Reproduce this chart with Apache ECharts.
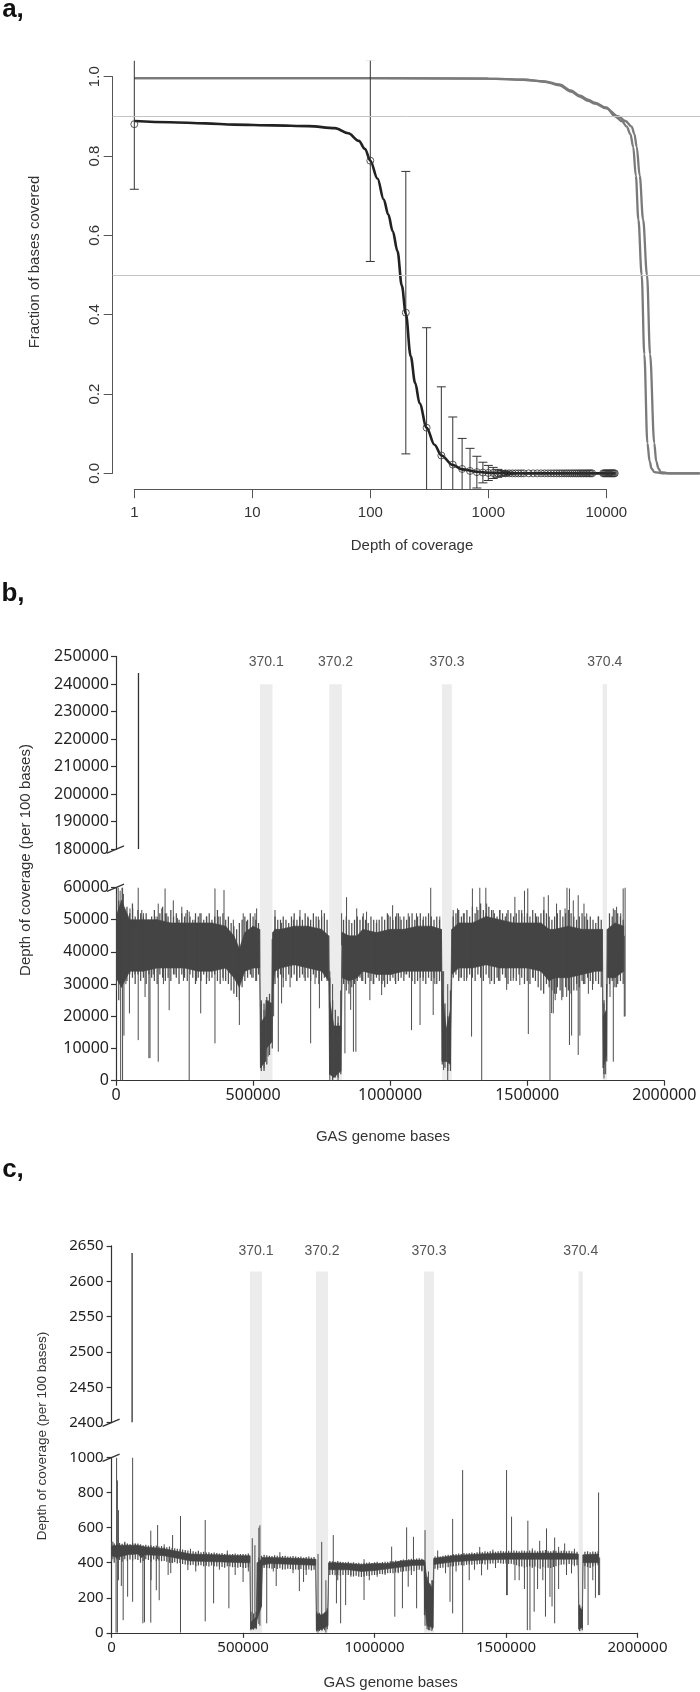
<!DOCTYPE html>
<html><head><meta charset="utf-8">
<script src="https://cdn.jsdelivr.net/npm/echarts@6/dist/echarts.min.js"></script>
<style>html,body{margin:0;padding:0;background:#fff}#c{width:700px;height:1692px}</style>
</head><body><div id="c"></div><script>
// ================= Panel a data =================
// depth of coverage (x), mean fraction of bases covered, standard deviation
const aDepth = [1,100,200,300,400,500,600,700,800,900,1000,1100,1200,1300,1400,1500,1600,1700,1800,1900,2000,
  2200,2400,2600,2800,3000,3200,3400,3600,3800,4000,4200,4400,4600,4800,5000,5200,5400,5600,5800,6000,6200,6400,6600,6800,7000,7200,7400,7600,
  9400,9600,9800,10000,10200,10400,10600,10800,11000,11200,11400,11600,11800];
const aMean = [0.880,0.788,0.405,0.115,0.045,0.022,0.011,0.006,0.003,0.002,0.001,0.001,
  0,0,0,0,0,0,0,0,0,0, 0,0,0,0,0,0,0,0,0,0, 0,0,0,0,0,0,0,0,0,0, 0,0,0,0,0,0,0,0,0,0, 0,0,0,0,0,0,0,0,0,0];
const aSD = [0.164,0.254,0.356,0.252,0.173,0.120,0.077,0.057,0.040,0.026,0.019,0.014,0.010,0.007,0.005,0.003,0.002,0.001,
  0,0,0,0,0,0,0,0,0,0, 0,0,0,0,0,0,0,0,0,0, 0,0,0,0,0,0,0,0,0,0, 0,0,0,0,0,0,0,0,0,0, 0,0,0,0];
// fitted (smooth) black curve
const aFitDepth = [1,2,4,7,15,30,50,65,80,90,100,115,130,142,155,170,185,200,220,240,262,300,350,400,500,600,800,1000,1500,2000,5000,12000];
const aFitFrac  = [0.888,0.885,0.882,0.879,0.877,0.875,0.870,0.857,0.838,0.818,0.788,0.743,0.690,0.652,0.610,0.560,0.473,0.402,0.295,0.228,0.176,0.115,0.072,0.045,0.021,0.010,0.004,0.0015,0.0005,0,0,0];
// two grey cumulative curves
const aGreyDepthA = [1,100,1000,2000,3000,4000,5000,6000,7000,8000,10000,11850,13500,14900,16000,16900,17800,18700,19950,21000,22300,23300,24200,25500,30000,62000];
const aGreyFracA  = [0.996,0.996,0.995,0.992,0.988,0.980,0.965,0.952,0.942,0.934,0.922,0.900,0.888,0.874,0.855,0.823,0.75,0.64,0.50,0.30,0.076,0.03,0.012,0.003,0,0];
const aGreyDepthB = [1,100,1000,2000,3000,4000,5000,6000,7000,8000,10000,12600,14500,16400,17300,18100,19200,20500,22130,23500,25500,26500,27700,29000,34000,62000];
const aGreyFracB  = [0.996,0.996,0.995,0.992,0.987,0.978,0.962,0.949,0.939,0.932,0.920,0.900,0.888,0.874,0.855,0.823,0.75,0.64,0.50,0.30,0.076,0.03,0.012,0.003,0,0];
const aRefLevels = [0.9, 0.5];
const aTicks = [1,10,100,1000,10000];

// ================= Panel b data (positions in kb, depth in thousands) =================
const bRegions = [[525,571],[778,824],[1189,1225],[1775,1791]];
const regionLabels = ['370.1','370.2','370.3','370.4'];
const bCorePos = [0,20,50,100,150,200,250,300,350,400,430,450,470,500,524,527,545,548,568,572,580,600,650,700,750,776,779,795,820,825,850,880,900,950,1000,1050,1100,1150,1187,1190,1205,1220,1225,1250,1300,1350,1400,1450,1500,1550,1580,1600,1650,1700,1750,1774,1777,1789,1792,1820,1852];
const bCoreLo  = [32,29,34,34,35,35,35,34,34,35,32,29,34,35,35,4,6,10,12,29,34,35,36,35,34,31,2,1,3,32,31,32,34,33,33,34,34,34,34,6,6,5,33,35,35,36,35,35,35,34,31,32,32,33,34,34,4,8,32,32,34];
const bCoreHi  = [51,56,50,50,50,49,49,49,49,48,45,41,46,48,47,18,20,25,24,46,47,47,48,48,47,45,25,17,17,46,45,45,47,46,47,47,48,48,47,28,16,22,47,49,49,51,50,49,49,49,47,47,48,47,47,47,20,22,47,49,48];
// per-10-kb extremes of the trace (thousands), 0 .. 1850 kb
const bEdgeHi = [
  58,56,55,53,54,52,55,51,53,52,  51,52,50,51,53,51,52,54,52,51,  53,51,52,50,52,51,53,51,50,52,
  51,52,50,51,52,50,51,53,51,52,  50,51,49,48,47,49,50,51,50,52,  51,50,49,25,24,26,27,44,51,50,
  50,51,50,49,51,52,50,51,50,52,  51,50,52,51,50,51,52,50,32,25,  22,20,28,50,51,50,49,50,51,50,
  51,50,49,51,50,49,50,51,50,52,  51,50,51,52,50,51,50,51,52,50,  51,52,50,51,52,51,50,51,50,34,
  24,20,28,51,52,53,51,52,53,51,  54,52,53,55,53,52,54,53,52,51,  53,52,51,53,52,51,52,53,52,51,
  52,51,53,52,51,52,53,52,51,50,  51,52,53,51,52,53,52,51,50,51,  52,51,50,51,50,49,51,50,25,30,
  52,51,53,52,51,50];
const bEdgeLo = [
  28,25,30,32,31,33,32,30,33,31,  32,30,33,32,31,30,33,32,31,32,  31,33,32,30,33,32,31,33,32,30,
  32,31,33,30,31,32,33,31,30,32,  31,30,28,27,26,25,29,31,32,33,  32,31,33,3,3,5,8,10,30,32,
  33,32,31,33,32,33,31,32,33,31,  32,31,33,32,30,31,32,31,2,0,  1,1,2,30,28,27,29,30,31,32,
  31,30,32,31,30,32,31,30,29,30,  31,32,30,31,32,31,33,32,31,30,  31,32,31,30,32,31,32,30,31,5,
  4,3,3,32,33,31,32,31,32,33,  32,31,33,32,31,33,32,31,30,32,  31,33,32,30,31,32,31,33,32,30,
  31,30,32,31,29,28,27,30,29,28,  27,29,28,26,29,28,27,28,30,29,  31,30,32,31,30,31,30,29,2,6,
  30,31,29,30,31,30];
// distinct excursions: [position kb, low k, high k]
const bSpikes = [[8,40,60],[15,30,59],[17,0,45],[22,35,60],[24,0,60],[27,38,58],[29,14,45],[36,30,45],[49,20.9,45],[51,42,53.5],[61,42,53.5],[69,33,45],[81,12.6,60],[94,40,53],[100,40,52],[106,26,42],[120,7,40],[124,7,40],[136,33,42],[142,42,51],[154,5.9,55],[167,42,53.5],[173,30,42],[179,40,59.7],[185,42,52],[194,21.9,45],[209,40,56],[215,33,42],[224,42,50.5],[240,40,54],[246,31,42],[255,42,52],[267,0,52.5],[288,42,50],[294,31,42],[306,40,52],[309,20.9,45],[331,32,51],[361,11.6,59.7],[373,42,51],[391,31,42],[394,40,59.2],[422,33,42],[428,42,50],[450,17.3,40],[464,40,52],[476,42,49.5],[495,32,42],[507,42,52],[513,31,53.5],[530,4,24],[540,3.8,22],[555,7.5,25],[575,20,45],[580,40,53],[592,9,45],[604,24,49],[610,29,42],[635,29,45],[647,42,50],[659,31,42],[671,40,53],[686,32,42],[701,42,50.5],[710,11.6,45],[726,30,42],[738,42,51],[742,22.5,45],[750,40,53],[768,33,42],[780,0,34],[790,0,30],[810,0,18],[823,42,52],[835,8.5,45],[841,40,57],[847,30,42],[856,22,44],[866,9,44],[875,9,44],[878,42,53.5],[896,31,42],[902,42,52],[914,40,52.5],[926,25,45],[938,30,42],[951,42,50],[969,26.6,45],[975,31,45],[993,42,51.5],[1005,33,42],[1009,40,54.5],[1018,31,42],[1024,42,52],[1036,42,51],[1054,33,42],[1066,42,52],[1078,15.7,45],[1096,42,52],[1109,17.3,45],[1121,32,51],[1148,40,60],[1157,20.4,45],[1163,30,42],[1181,42,51],[1195,3.3,34],[1210,0,30],[1230,42,53],[1246,40,53.5],[1255,32,42],[1267,42,52],[1279,31,45],[1297,13.7,45],[1300,40,59.7],[1316,42,54],[1327,40,60],[1334,0,45],[1349,40,60],[1352,42,55],[1364,30,42],[1376,40,53],[1395,31,42],[1400,42,53],[1425,28.2,52],[1449,31,42],[1455,40,57.1],[1473,29.7,45],[1480,42,53],[1490,40,59],[1502,40,59.7],[1504,14.5,45],[1522,32,42],[1534,42,51],[1561,40,57.1],[1577,40,57.6],[1583,0,45],[1589,21,42],[1595,20.9,45],[1602,25,42],[1607,27,55],[1626,25,42],[1638,42,53.5],[1644,26,42],[1645,40,60],[1654,11.1,59.7],[1662,14,42],[1668,42,56],[1681,28,42],[1686,8,57.6],[1692,14,42],[1705,30,42],[1707,40,55],[1717,42,52],[1723,27,42],[1738,28.2,45],[1759,42,51],[1780,0.7,24],[1786,2,20],[1802,26,42],[1814,5.9,53.5],[1826,29,54],[1841,42,52],[1850,40,59.7],[1854,19.9,45],[1857,20,60]];
const bUpperSpikes = [[82,180,244]];

// ================= Panel c data (positions in kb, depth per 100 bases) =================
const cRegions = [[526,572],[777,823],[1188,1226],[1776,1792]];
const cCorePos = [0,20,60,100,112,130,200,250,300,400,500,526,529,550,554,570,574,600,700,776,779,800,822,826,850,900,950,1000,1050,1100,1150,1188,1191,1200,1222,1226,1250,1300,1400,1500,1600,1700,1774,1777,1790,1793,1852];
const cCoreLo  = [440,430,445,450,430,445,440,425,410,405,400,400,22,30,80,150,385,395,390,385,15,20,40,360,360,360,350,355,365,375,385,385,150,40,30,390,395,405,415,420,420,420,420,20,30,400,400];
const cCoreHi  = [495,500,500,500,495,490,480,465,450,445,440,440,60,90,400,420,430,430,425,420,110,100,130,400,400,395,390,395,395,410,415,415,400,300,250,425,430,440,450,455,455,455,450,150,130,445,450];
// per-10-kb extremes of the trace, 0 .. 1850 kb
const cEdgeHi = [
  520,510,505,512,508,515,510,505,512,508,  510,505,500,502,498,500,495,498,492,495,  490,488,492,485,482,480,478,475,472,470,
  468,465,462,468,460,462,458,460,455,458,  455,452,456,450,452,448,450,452,448,450,  450,448,452,120,110,120,430,440,445,442,
  440,438,442,440,436,438,440,436,435,438,  435,432,436,430,432,435,430,432,120,115,  110,115,140,410,408,405,410,406,404,402,
  405,400,402,398,400,396,398,400,402,398,  402,405,400,404,406,405,408,410,412,410,  415,418,416,420,422,420,424,425,422,410,
  320,280,300,435,438,436,440,442,445,444,  448,450,452,450,455,452,456,458,455,460,  462,460,465,462,466,464,462,466,468,465,
  466,468,465,470,468,466,470,468,466,470,  468,470,466,468,470,472,468,466,470,468,  466,468,470,465,468,466,464,462,160,150,
  462,465,460,464,462,466];
const cEdgeLo = [
  410,400,420,415,405,420,410,418,412,420,  415,400,410,420,415,405,418,410,412,408,  410,405,400,398,402,395,398,392,390,388,
  385,388,380,384,386,380,382,378,384,380,  378,380,376,372,380,378,374,376,372,375,  372,370,374,15,18,20,360,365,370,368,
  368,365,370,364,368,366,362,366,364,360,  362,360,364,358,360,362,356,360,8,10,  12,15,20,330,332,328,330,326,330,332,
  330,328,322,326,320,318,322,326,324,328,  330,332,336,334,338,340,342,340,344,346,  348,350,352,354,356,352,358,360,355,100,
  20,15,20,365,368,370,372,375,374,378,  380,382,384,386,384,388,390,388,392,390,  392,394,390,395,394,396,392,398,396,394,
  396,392,394,390,385,380,378,370,375,380,  372,378,370,365,375,368,372,370,375,380,  385,388,390,386,392,388,390,385,10,15,
  380,375,370,378,382,385];
const cSpikes = [[5,420,520],[17,0,480],[19,420,1000],[22,0,870],[26,300,700],[37,267,440],[44,72,440],[50,440,520],[61,206,440],[80,177,1000],[90,450,510],[119,54,440],[125,60,440],[149,58,583],[150,300,450],[170,243,440],[175,420,615],[181,186,440],[200,450,505],[215,330,450],[225,340,450],[232,400,558],[262,0,667],[290,358,420],[300,430,480],[320,350,430],[356,65,644],[388,168,420],[410,360,430],[440,420,470],[446,140,420],[470,330,420],[500,290,420],[520,350,420],[535,20,540],[545,30,500],[560,50,600],[564,40,614],[590,54,420],[615,350,420],[626,267,420],[640,410,460],[650,360,420],[690,340,410],[714,238,420],[730,290,420],[740,330,410],[785,0,450],[799,40,519],[815,0,300],[843,360,558],[855,168,380],[860,300,380],[871,54,380],[890,158,380],[910,320,380],[960,187,420],[980,300,380],[1010,320,380],[1040,330,380],[1065,370,492],[1077,92,380],[1090,340,400],[1106,140,390],[1122,380,602],[1128,263,390],[1140,330,400],[1148,385,548],[1160,140,400],[1180,350,410],[1192,40,586],[1205,15,350],[1218,10,300],[1240,360,470],[1270,340,420],[1287,177,410],[1297,111,650],[1310,350,430],[1335,0,929],[1360,300,420],[1380,360,430],[1400,440,490],[1407,328,420],[1430,360,440],[1450,440,475],[1460,370,440],[1502,215,929],[1505,215,430],[1521,420,663],[1534,300,430],[1550,300,430],[1570,250,430],[1581,15,430],[1583,420,640],[1591,15,430],[1600,420,482],[1607,120,430],[1620,250,430],[1628,420,525],[1640,300,430],[1650,92,430],[1654,420,596],[1667,205,430],[1675,150,430],[1685,54,544],[1700,250,490],[1723,420,510],[1730,330,430],[1749,339,430],[1760,380,480],[1780,10,150],[1800,250,430],[1812,44,430],[1830,300,430],[1840,200,430],[1852,215,801],[1856,215,430]];
const cUpperSpikes = [[78,2400,2640]];

// ================= build =================
const KB = 1000;
const EDGE_STEP_KB = 10;
const L = Math.log10;
const FONT = 'Liberation Sans';
const NUMFONT = 'Noto Sans';

function coreSegs(pos, lo, hi, ky){
  const out = [];
  for (let i = 0; i < pos.length - 1; i++)
    out.push([pos[i]*KB, lo[i]*ky, hi[i]*ky, pos[i+1]*KB, lo[i+1]*ky, hi[i+1]*ky]);
  return out;
}
function edgeRows(lo, hi, ky){
  return lo.map((v, i) => [i*EDGE_STEP_KB*KB, v*ky, hi[i]*ky]);
}
function renderCore(params, api){
  const p0 = api.coord([api.value(0), api.value(1)]);
  const p1 = api.coord([api.value(3), api.value(4)]);
  const p2 = api.coord([api.value(3), api.value(5)]);
  const p3 = api.coord([api.value(0), api.value(2)]);
  return {type:'polygon', shape:{points:[p0,p1,p2,p3]}, style:{fill:'#444', stroke:'#444', lineWidth:0.6}};
}
function renderRange(color, w){
  return function(params, api){
    const a = api.coord([api.value(0), api.value(1)]);
    const b = api.coord([api.value(0), api.value(2)]);
    return {type:'line', shape:{x1:a[0], y1:a[1], x2:b[0], y2:b[1]}, style:{stroke:color, lineWidth:w}};
  };
}
function renderRegions(gap){
  return function(params, api){
    const p0 = api.coord([api.value(0), 1]);
    const p1 = api.coord([api.value(1), 0]);
    return {type:'group', children:[
      {type:'rect', shape:{x:p0[0], y:p0[1], width:p1[0]-p0[0], height:p1[1]-p0[1]}, style:{fill:'#ececec'}},
      {type:'text', x:(p0[0]+p1[0])/2, y:p0[1]-gap, style:{text:regionLabels[params.dataIndex], fill:'#555', font:'14px "'+FONT+'"', align:'center', verticalAlign:'middle'}}
    ]};
  };
}
function renderErr(params, api){
  const x = api.value(0), m = api.value(1), s = api.value(2);
  const t = api.coord([x, m + s]), b = api.coord([x, m - s]);
  const w = 4.5, st = {stroke:'#333', lineWidth:1};
  return {type:'group', children:[
    {type:'line', shape:{x1:t[0], y1:t[1], x2:b[0], y2:b[1]}, style:st},
    {type:'line', shape:{x1:t[0]-w, y1:t[1], x2:t[0]+w, y2:t[1]}, style:st},
    {type:'line', shape:{x1:b[0]-w, y1:b[1], x2:b[0]+w, y2:b[1]}, style:st}
  ]};
}

const G = (left, top, width, height) => ({left, top, width, height, containLabel:false, outerBoundsMode:'none'});
const hiddenX = (gi, min, max) => ({gridIndex:gi, type:'value', min, max, show:false});
const hiddenY = (gi, min, max) => ({gridIndex:gi, type:'value', min, max, show:false});
const axisCommon = (color, w, tickLen) => ({
  axisLine:{show:true, onZero:false, lineStyle:{color, width:w}},
  axisTick:{show:true, length:tickLen, lineStyle:{color, width:w}},
  splitLine:{show:false}
});

const aXmin = -0.18305, aXmax = 4.7941;

const option = {
  animation:false,
  backgroundColor:'#fff',
  textStyle:{fontFamily:FONT},
  grid:[
    G(112.7, 60.7, 587.3, 428.5),   // 0 a data
    G(134.3, 60.7, 472, 428.5),     // 1 a x-axis
    G(112.7, 76.7, 100, 396.6),     // 2 a y-axis
    G(116, 656.4, 548.3, 192.9),    // 3 b upper
    G(116, 887.5, 548.3, 193.2),    // 4 b lower
    G(116, 684.3, 548.3, 396.4),    // 5 b regions
    G(111.6, 1245.9, 525.9, 176.7), // 6 c upper
    G(111.6, 1457.6, 525.9, 175.2), // 7 c lower
    G(111.6, 1271.5, 525.9, 361.3)  // 8 c regions
  ],
  xAxis:[
    hiddenX(0, aXmin, aXmax),
    Object.assign({gridIndex:1, type:'value', min:0, max:4, interval:1, position:'bottom',
      axisLabel:{margin:16, color:'#333', fontSize:15, fontFamily:FONT,
        formatter:v => String(aTicks[Math.round(v)])}}, axisCommon('#555', 1, 9)),
    hiddenX(2, 0, 1),
    hiddenX(3, 0, 2000000),
    Object.assign({gridIndex:4, type:'value', min:0, max:2000000, interval:500000, position:'bottom',
      axisLabel:{margin:7, color:'#222', fontSize:16, fontFamily:NUMFONT, formatter:v => String(v)}}, axisCommon('#333', 1.2, 5)),
    hiddenX(5, 0, 2000000),
    hiddenX(6, 0, 2000000),
    Object.assign({gridIndex:7, type:'value', min:0, max:2000000, interval:500000, position:'bottom',
      axisLabel:{margin:7, color:'#222', fontSize:15, fontFamily:NUMFONT, formatter:v => String(v)}}, axisCommon('#333', 1.2, 5)),
    hiddenX(8, 0, 2000000)
  ],
  yAxis:[
    hiddenY(0, -0.04, 1.04),
    hiddenY(1, 0, 1),
    Object.assign({gridIndex:2, type:'value', min:0, max:1, interval:0.2, position:'left',
      axisLabel:{rotate:90, margin:10, color:'#333', fontSize:15, fontFamily:FONT, formatter:v => v.toFixed(1)}}, axisCommon('#555', 1, 9)),
    Object.assign({gridIndex:3, type:'value', min:180000, max:250000, interval:10000, position:'left',
      axisLabel:{margin:7, color:'#222', fontSize:16, fontFamily:NUMFONT, formatter:v => String(v)}}, axisCommon('#333', 1.2, 5)),
    Object.assign({gridIndex:4, type:'value', min:0, max:60000, interval:10000, position:'left',
      axisLabel:{margin:7, color:'#222', fontSize:16, fontFamily:NUMFONT, formatter:v => String(v)}}, axisCommon('#333', 1.2, 5)),
    hiddenY(5, 0, 1),
    Object.assign({gridIndex:6, type:'value', min:2400, max:2650, interval:50, position:'left',
      axisLabel:{margin:8, color:'#222', fontSize:15, fontFamily:NUMFONT, formatter:v => String(v)}}, axisCommon('#333', 1.2, 5)),
    Object.assign({gridIndex:7, type:'value', min:0, max:1000, interval:200, position:'left',
      axisLabel:{margin:8, color:'#222', fontSize:15, fontFamily:NUMFONT, formatter:v => String(v)}}, axisCommon('#333', 1.2, 5)),
    hiddenY(8, 0, 1)
  ],
  series:[
    // ---- a ----
    {type:'line', xAxisIndex:0, yAxisIndex:0, z:2, clip:true, symbol:'none', smooth:0.35, smoothMonotone:'x',
      data:aGreyDepthA.map((d,i)=>[L(d), aGreyFracA[i]]), lineStyle:{color:'#7a7a7a', width:2.3},
      markLine:{silent:true, symbol:'none', label:{show:false}, lineStyle:{color:'#c4c4c4', width:1, type:'solid'},
        data:aRefLevels.map(v=>({yAxis:v}))}},
    {type:'line', xAxisIndex:0, yAxisIndex:0, z:2, clip:true, symbol:'none', smooth:0.35, smoothMonotone:'x',
      data:aGreyDepthB.map((d,i)=>[L(d), aGreyFracB[i]]), lineStyle:{color:'#7a7a7a', width:2.3}},
    {type:'custom', xAxisIndex:0, yAxisIndex:0, z:3, clip:true, renderItem:renderErr,
      data:aDepth.map((d,i)=>[L(d), aMean[i], aSD[i]]).filter(r=>r[2]>0)},
    {type:'line', xAxisIndex:0, yAxisIndex:0, z:4, clip:true, symbol:'none', smooth:0.35, smoothMonotone:'x',
      data:aFitDepth.map((d,i)=>[L(d), aFitFrac[i]]), lineStyle:{color:'#222', width:2.6}},
    {type:'scatter', xAxisIndex:0, yAxisIndex:0, z:5, symbol:'circle', symbolSize:7,
      data:aDepth.map((d,i)=>[L(d), aMean[i]]),
      itemStyle:{color:'rgba(255,255,255,0)', borderColor:'#333', borderWidth:1}},
    // ---- b ----
    {type:'custom', xAxisIndex:5, yAxisIndex:5, z:0, clip:false, renderItem:renderRegions(21.8),
      data:bRegions.map(r=>[r[0]*KB, r[1]*KB])},
    {type:'custom', xAxisIndex:4, yAxisIndex:4, z:3, clip:true, renderItem:renderRange('#505050', 1.25),
      data:edgeRows(bEdgeLo, bEdgeHi, 1000)},
    {type:'custom', xAxisIndex:4, yAxisIndex:4, z:3, clip:true, renderItem:renderRange('#4d4d4d', 1),
      data:bSpikes.map(s=>[s[0]*KB, s[1]*1000, s[2]*1000])},
    {type:'custom', xAxisIndex:4, yAxisIndex:4, z:4, clip:true, renderItem:renderCore,
      data:coreSegs(bCorePos, bCoreLo, bCoreHi, 1000)},
    {type:'custom', xAxisIndex:3, yAxisIndex:3, z:3, clip:true, renderItem:renderRange('#333', 1.3),
      data:bUpperSpikes.map(s=>[s[0]*KB, s[1]*1000, s[2]*1000])},
    // ---- c ----
    {type:'custom', xAxisIndex:8, yAxisIndex:8, z:0, clip:false, renderItem:renderRegions(20.8),
      data:cRegions.map(r=>[r[0]*KB, r[1]*KB])},
    {type:'custom', xAxisIndex:7, yAxisIndex:7, z:3, clip:true, renderItem:renderRange('#505050', 1.25),
      data:edgeRows(cEdgeLo, cEdgeHi, 1)},
    {type:'custom', xAxisIndex:7, yAxisIndex:7, z:3, clip:true, renderItem:renderRange('#4d4d4d', 1),
      data:cSpikes.map(s=>[s[0]*KB, s[1], s[2]])},
    {type:'custom', xAxisIndex:7, yAxisIndex:7, z:4, clip:true, renderItem:renderCore,
      data:coreSegs(cCorePos, cCoreLo, cCoreHi, 1)},
    {type:'custom', xAxisIndex:6, yAxisIndex:6, z:3, clip:true, renderItem:renderRange('#333', 1.3),
      data:cUpperSpikes.map(s=>[s[0]*KB, s[1], s[2]])}
  ]
};

const chart = echarts.init(document.getElementById('c'), null, {renderer:'canvas', width:700, height:1692});
chart.setOption(option);

function txt(text, x, y, font, rot, color){
  return {type:'text', x, y, rotation:rot||0, z:20,
    style:{text, font, fill:color||'#333', align:'center', verticalAlign:'middle', textAlign:'center', textVerticalAlign:'middle'}};
}
function brk(gi, yv){
  const p = chart.convertToPixel({gridIndex:gi}, [0, yv]);
  return {type:'line', z:20, shape:{x1:p[0]-9, y1:p[1]+3.8, x2:p[0]+8, y2:p[1]-3.4}, style:{stroke:'#333', lineWidth:1.3}};
}
const R90 = Math.PI/2;
chart.setOption({graphic:[
  txt('a,', 13, 10, 'bold 26px "'+FONT+'"', 0, '#111'),
  txt('b,', 13, 594, 'bold 26px "'+FONT+'"', 0, '#111'),
  txt('c,', 13, 1170, 'bold 26px "'+FONT+'"', 0, '#111'),
  txt('Fraction of bases covered', 34.5, 262, '15px "'+FONT+'"', R90),
  txt('Depth of coverage', 412, 546, '15px "'+FONT+'"', 0),
  txt('Depth of coverage (per 100 bases)', 26, 860, '15px "'+FONT+'"', R90),
  txt('GAS genome bases', 383, 1137, '15px "'+FONT+'"', 0),
  txt('Depth of coverage (per 100 bases)', 42.4, 1436, '13.5px "'+FONT+'"', R90),
  txt('GAS genome bases', 390.6, 1683, '15px "'+FONT+'"', 0),
  brk(3, 180000), brk(4, 60000), brk(6, 2400), brk(7, 1000)
]});
</script></body></html>
